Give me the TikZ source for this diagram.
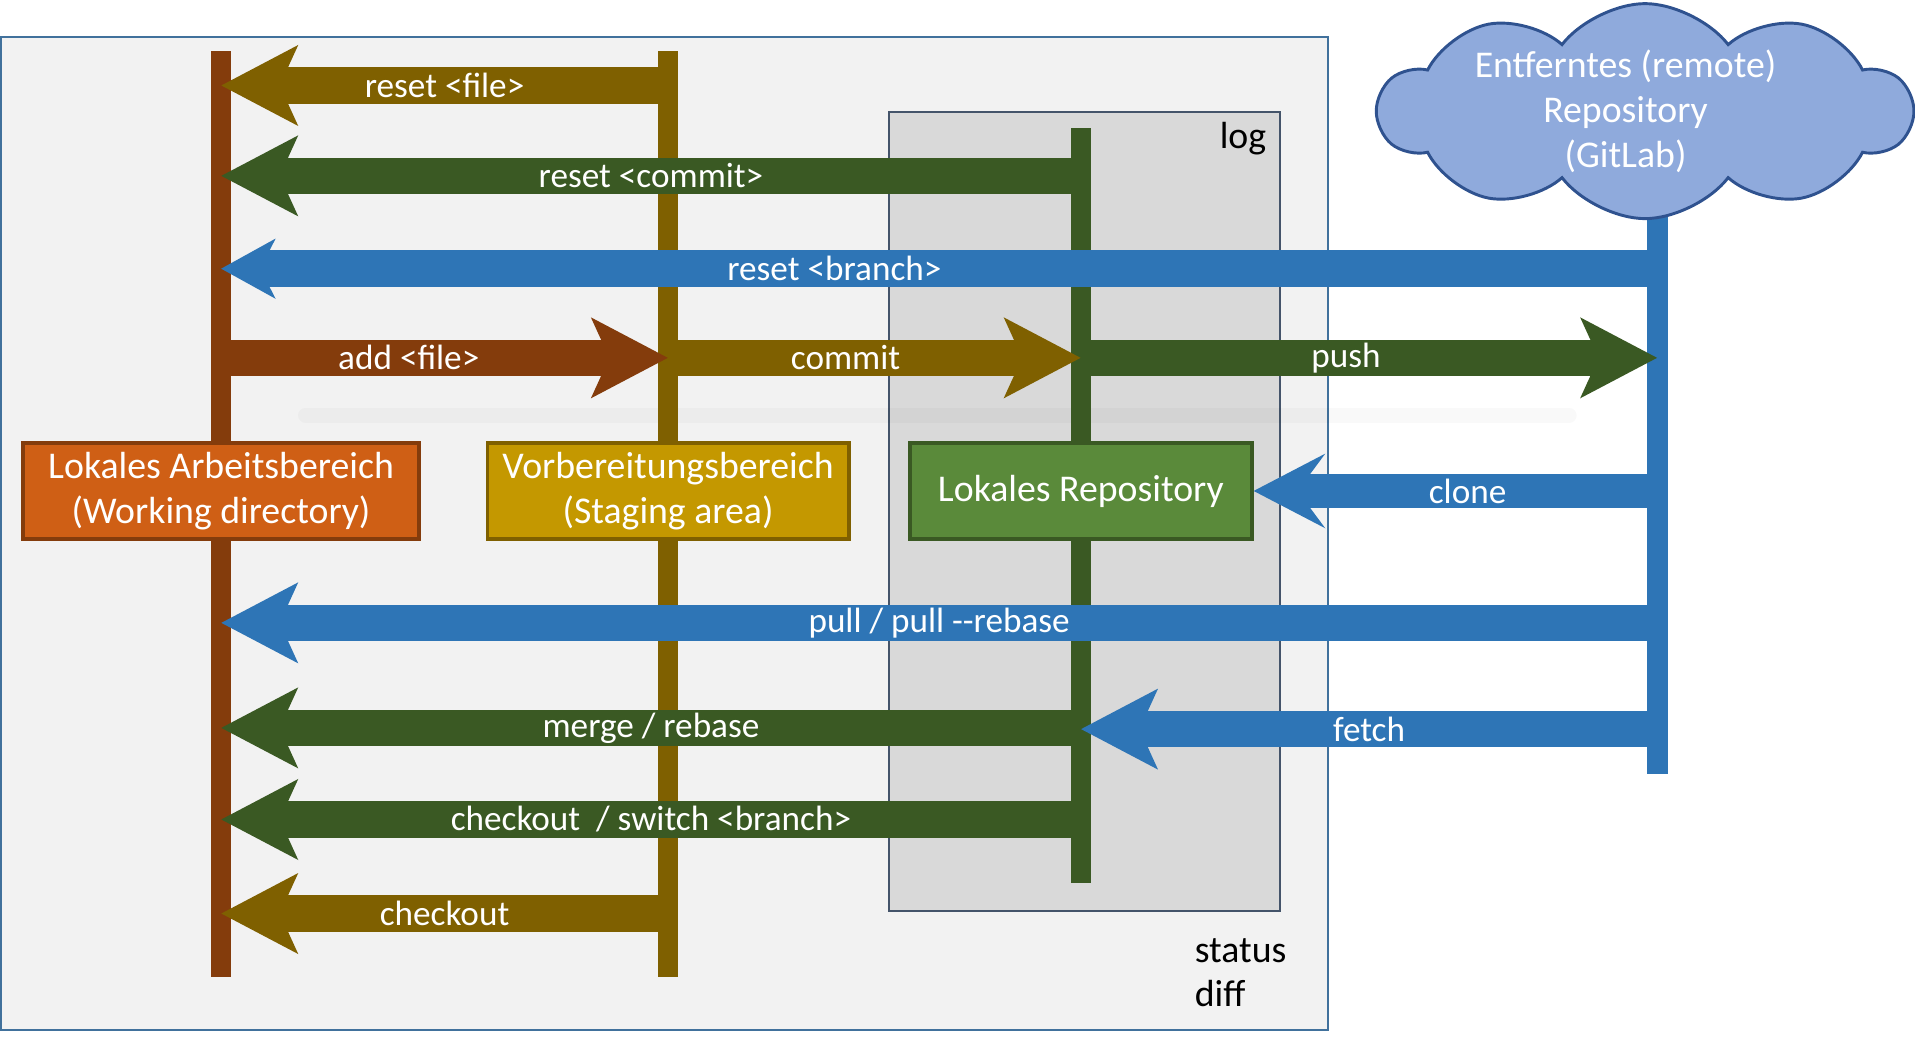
\documentclass[tikz,border=0pt]{standalone}
\usepackage{fontspec}
\setmainfont{Carlito}
\usetikzlibrary{arrows.meta,shapes.symbols}
\definecolor{framefill}{HTML}{F2F2F2}
\definecolor{frameline}{HTML}{41719C}
\definecolor{logfill}{HTML}{D9D9D9}
\definecolor{logline}{HTML}{44546A}
\definecolor{wdcol}{HTML}{843C0C}
\definecolor{sacol}{HTML}{7F6000}
\definecolor{lrcol}{HTML}{3A5923}
\definecolor{rrcol}{HTML}{2E75B6}
\definecolor{wdfill}{HTML}{CF5F15}
\definecolor{safill}{HTML}{C49800}
\definecolor{lrfill}{HTML}{5A8A3A}
\definecolor{cloudfill}{HTML}{8FAADC}
\definecolor{cloudline}{HTML}{2F528F}
\begin{document}
\begin{tikzpicture}[x=0.025cm, y=-0.025cm]
	\tikzset{
		lane/.style={line width=0.42cm},
		fat/.style={line width=0.75cm, -{Stealth[length=1.55cm, width=1.6cm, inset=0.35cm]}},
		fatsmall/.style={line width=0.75cm, -{Stealth[length=1.1cm, width=1.2cm, inset=0.3cm]}},
		fatclone/.style={line width=0.68cm, -{Stealth[length=1.45cm, width=1.5cm, inset=0.55cm]}},
		areabox/.style={draw, line width=0.07cm, text=white, align=center, minimum height=1.97cm, font=\fontsize{22}{26.3}\selectfont},
		lbl/.style={text=white, inner sep=0pt, font=\fontsize{20.5}{24}\selectfont},
		plain/.style={text=black, inner sep=0pt, font=\fontsize{22}{26}\selectfont}
	}
	\useasboundingbox (0,0) rectangle (1568,852);
	\draw[frameline, fill=framefill, line width=0.04cm] (1,30) rectangle (1087,843);
	\draw[logline, fill=logfill, line width=0.04cm] (728,92) rectangle (1048,746);
	\draw[black, opacity=0.025, line width=0.3cm, line cap=round] (250,340) -- (1285,340);
	\node[plain, anchor=base east] (log) at (1037,122) {log};
	\node[plain, anchor=base west] (status) at (978,788) {status};
	\node[plain, anchor=base west] (diff) at (978,824) {diff};
	\coordinate (wd) at (181,0);
	\coordinate (sa) at (547,0);
	\coordinate (lr) at (885,0);
	\coordinate (rr) at (1357,0);
	\foreach \n/\a/\b in {wd/42/800, sa/42/800, lr/105/723, rr/172/634}
		\draw[lane, draw=\n col] (\n |- 0,\a) -- (\n |- 0,\b);
	\foreach \src/\dst/\y/\st/\p/\txt [count=\i] in {
			sa/wd/70/fat/0.5/{reset <file>},
			lr/wd/144/fat/0.5/{reset <commit>},
			rr/wd/220/fatsmall/0.573/{reset <branch>},
			wd/sa/293/fat/0.42/{add <file>},
			sa/lr/293/fat/0.43/{commit},
			lr/rr/293/fat/0.46/{push},
			rr/wd/510/fat/0.5/{pull / pull -{}-rebase},
			lr/wd/596/fat/0.5/{merge / rebase},
			rr/lr/597/fat/0.5/{fetch},
			lr/wd/671/fat/0.5/{checkout\ \ / switch <branch>},
			sa/wd/748/fat/0.5/{checkout}}
		\draw[\st, draw=\src col] (\src |- 0,\y) -- node[lbl, pos=\p] (cmd\i) {\txt} (\dst |- 0,\y);
	\node[areabox, fill=wdfill, draw=wdcol, minimum width=8.1cm] (wd-box) at (wd |- 0,402) {Lokales Arbeitsbereich\\(Working directory)};
	\node[areabox, fill=safill, draw=sacol, minimum width=7.4cm] (sa-box) at (sa |- 0,402) {Vorbereitungsbereich\\(Staging area)};
	\node[areabox, fill=lrfill, draw=lrcol, minimum width=7cm] (lr-box) at (lr |- 0,402) {Lokales Repository};
	\draw[fatclone, draw=rrcol] (rr |- 0,402) -- node[lbl, pos=0.47] (cmd-clone) {clone} (lr-box.east);
	\node[cloud, cloud puffs=10, cloud puff arc=105, aspect=2.46, inner sep=0pt, draw=cloudline, fill=cloudfill, line width=0.06cm, minimum width=10.9cm, minimum height=4.4cm] (rr-box) at (1347,91) {};
	\node[text=white, align=center, inner sep=0pt, font=\fontsize{22}{26.3}\selectfont] (rr-text) at ([xshift=-0.4cm]rr-box.center) {Entferntes (remote)\\Repository\\(GitLab)};
\end{tikzpicture}
\end{document}
